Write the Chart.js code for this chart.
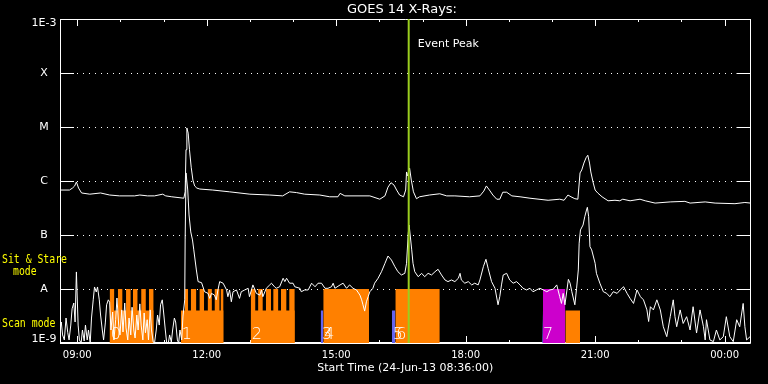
<!DOCTYPE html>
<html>
<head>
<meta charset="utf-8">
<script src="https://cdn.jsdelivr.net/npm/chart.js@4/dist/chart.umd.min.js"></script>
<style>
  html, body { margin: 0; padding: 0; background: #000; }
  canvas { display: block; background: #000; }
</style>
</head>
<body>
<canvas id="goes" width="768" height="384"></canvas>
<script>
// axis ticks
var xTickVals = [9, 12, 15, 18, 21, 24];
var xTickLabels = ['09:00', '12:00', '15:00', '18:00', '21:00', '00:00'];
var yTickVals = [1e-9, 1e-8, 1e-7, 1e-6, 1e-5, 1e-4, 1e-3];
var yTickLabels = ['1E-9', 'A', 'B', 'C', 'M', 'X', '1E-3'];

// 1-8 A channel (hours since 24-Jun 00:00, W/m2)
var longTime = [8.60, 8.82, 8.89, 8.94, 8.98, 9.03, 9.10, 9.29, 9.54, 9.75, 9.98, 10.33, 10.45, 10.63, 10.79, 10.98, 11.05, 11.19, 11.47,
  11.50, 11.52, 11.54, 11.57, 11.60, 11.64, 11.68, 11.72, 11.77, 11.84, 12.14, 12.53, 13.00, 13.46, 13.76, 13.92, 14.08, 14.27, 14.62,
  14.85, 15.04, 15.09, 15.20, 15.78, 16.01, 16.13, 16.20, 16.27, 16.34, 16.40, 16.47, 16.56, 16.61, 16.63, 16.65, 16.70, 16.74, 16.79,
  16.86, 16.93, 17.16, 17.40, 17.56, 17.75, 18.09, 18.33, 18.42, 18.48, 18.55, 18.63, 18.72, 18.79, 18.86, 18.95, 19.07, 19.26, 19.49,
  19.91, 20.18, 20.28, 20.37, 20.44, 20.53, 20.60, 20.65, 20.69, 20.74, 20.79, 20.83, 20.87, 20.90, 20.95, 21.00, 21.06, 21.16, 21.30,
  21.46, 21.57, 21.64, 21.81, 22.04, 22.16, 22.39, 22.74, 23.08, 23.20, 23.55, 23.78, 24.24, 24.47, 24.60];
var longFlux = [6.8e-7, 6.8e-7, 7.4e-7, 8.1e-7, 9.6e-7, 7.4e-7, 6.0e-7, 5.7e-7, 6.0e-7, 5.5e-7, 5.3e-7, 5.3e-7, 5.5e-7, 5.3e-7, 5.3e-7, 5.7e-7, 5.3e-7, 5.1e-7, 4.8e-7,
  6.3e-7, 3.8e-6, 9.6e-6, 7.7e-6, 3.8e-6, 1.8e-6, 1.04e-6, 8.1e-7, 7.4e-7, 7.1e-7, 6.8e-7, 6.3e-7, 5.7e-7, 5.5e-7, 5.3e-7, 6.3e-7, 6.1e-7, 5.7e-7, 5.5e-7,
  5.1e-7, 5.1e-7, 5.9e-7, 5.3e-7, 5.3e-7, 4.6e-7, 5.3e-7, 7.7e-7, 9.3e-7, 8.4e-7, 6.8e-7, 5.5e-7, 5.1e-7, 6.8e-7, 1.47e-6, 1.24e-6, 1.74e-6, 1.04e-6, 6.3e-7,
  4.7e-7, 5.1e-7, 5.5e-7, 5.8e-7, 5.3e-7, 5.3e-7, 5.1e-7, 5.3e-7, 6.5e-7, 8.1e-7, 6.8e-7, 5.5e-7, 4.6e-7, 4.6e-7, 6.2e-7, 6.2e-7, 5.3e-7, 5.1e-7, 4.8e-7,
  4.4e-7, 4.6e-7, 4.4e-7, 5.5e-7, 5.1e-7, 4.7e-7, 4.6e-7, 1.41e-6, 1.6e-6, 2.15e-6, 2.7e-6, 3.0e-6, 2.15e-6, 1.47e-6, 9.6e-7, 6.8e-7, 6.0e-7, 5.1e-7, 4.3e-7,
  4.4e-7, 4.3e-7, 4.6e-7, 4.3e-7, 4.6e-7, 4.3e-7, 3.9e-7, 4.1e-7, 4.2e-7, 3.9e-7, 4.1e-7, 3.9e-7, 3.8e-7, 4.0e-7, 3.9e-7];

// 0.5-4 A channel
var shortTime = [8.60, 8.63, 8.66, 8.70, 8.74, 8.78, 8.81, 8.85, 8.88, 8.92, 8.95, 8.98, 9.02, 9.05, 9.09, 9.12, 9.16, 9.19, 9.23, 9.26,
  9.30, 9.33, 9.37, 9.40, 9.44, 9.47, 9.51, 9.54, 9.58, 9.61, 9.65, 9.68, 9.72, 9.75, 9.78, 9.82, 9.85, 9.89, 9.92, 9.96, 9.99, 10.03,
  10.06, 10.10, 10.13, 10.17, 10.20, 10.24, 10.27, 10.31, 10.34, 10.38, 10.41, 10.45, 10.48, 10.52, 10.55, 10.58, 10.62, 10.65, 10.69,
  10.72, 10.76, 10.79, 10.83, 10.86, 10.90, 10.93, 10.97, 11.00, 11.04, 11.07, 11.11, 11.14, 11.18, 11.21, 11.25, 11.28, 11.32, 11.35,
  11.38, 11.42, 11.45, 11.49, 11.50, 11.52, 11.56, 11.59, 11.63, 11.67, 11.70, 11.76, 11.80, 11.88, 11.95, 12.03, 12.07, 12.11, 12.18,
  12.22, 12.26, 12.30, 12.38, 12.46, 12.49, 12.53, 12.57, 12.61, 12.69, 12.76, 12.80, 12.88, 12.96, 12.99, 13.07, 13.15, 13.23, 13.27,
  13.30, 13.38, 13.46, 13.50, 13.57, 13.61, 13.69, 13.77, 13.81, 13.85, 13.92, 14.00, 14.04, 14.16, 14.19, 14.27, 14.35, 14.43, 14.51,
  14.58, 14.66, 14.74, 14.81, 14.89, 14.93, 14.97, 15.09, 15.16, 15.24, 15.31, 15.39, 15.47, 15.55, 15.59, 15.62, 15.66, 15.70, 15.74,
  15.78, 15.85, 15.89, 15.97, 16.05, 16.13, 16.20, 16.28, 16.36, 16.43, 16.51, 16.59, 16.63, 16.67, 16.69, 16.75, 16.78, 16.82, 16.90,
  16.98, 17.05, 17.13, 17.21, 17.29, 17.36, 17.44, 17.52, 17.59, 17.67, 17.75, 17.83, 17.87, 17.90, 17.98, 18.06, 18.14, 18.21, 18.29,
  18.33, 18.41, 18.47, 18.52, 18.60, 18.68, 18.75, 18.79, 18.83, 18.87, 18.95, 19.02, 19.10, 19.18, 19.26, 19.33, 19.41, 19.49, 19.56,
  19.64, 19.72, 19.80, 19.88, 19.95, 20.03, 20.11, 20.18, 20.22, 20.26, 20.30, 20.38, 20.42, 20.46, 20.53, 20.57, 20.61, 20.63, 20.66,
  20.72, 20.76, 20.80, 20.82, 20.85, 20.88, 20.92, 21.00, 21.03, 21.11, 21.19, 21.27, 21.34, 21.42, 21.51, 21.58, 21.66, 21.74, 21.81,
  21.89, 21.97, 22.05, 22.12, 22.20, 22.24, 22.28, 22.35, 22.43, 22.51, 22.58, 22.66, 22.74, 22.81, 22.85, 22.89, 22.97, 23.04, 23.12,
  23.20, 23.27, 23.35, 23.43, 23.51, 23.55, 23.58, 23.66, 23.74, 23.81, 23.89, 23.97, 24.04, 24.12, 24.20, 24.28, 24.35, 24.39, 24.43,
  24.47, 24.51, 24.59];
var shortFlux = [1.74e-9, 2.45e-9, 1.41e-9, 1.14e-9, 2.9e-9, 1.55e-9, 1.14e-9, 2.15e-9, 4.3e-9, 5.5e-9, 2.45e-9, 2.07e-8, 2.15e-9, 1.14e-9, 1.0e-9, 1.74e-9, 1.09e-9, 2.15e-9, 1.14e-9, 1.74e-9,
  1.0e-9, 2.9e-9, 6.3e-9, 1.09e-8, 8.8e-9, 1.09e-8, 6.3e-9, 3.3e-9, 1.74e-9, 1.14e-9, 2.35e-9, 5.1e-9, 6.3e-9, 5.7e-9, 1.74e-9, 3.75e-9, 1.14e-9, 2.7e-9, 6.8e-9, 2.15e-9, 1.41e-9, 4.1e-9,
  1.6e-9, 5.5e-9, 1.9e-9, 1.14e-9, 2.9e-9, 1.41e-9, 4.6e-9, 1.74e-9, 1.24e-9, 3.3e-9, 1.74e-9, 5.3e-9, 2.15e-9, 1.14e-9, 3.6e-9, 1.55e-9, 2.7e-9, 1.14e-9, 4.1e-9,
  1.74e-9, 1.04e-9, 1.0e-9, 1.74e-9, 3.3e-9, 2.15e-9, 5.1e-9, 6.3e-9, 3.75e-9, 1.74e-9, 1.04e-9, 1.0e-9, 1.41e-9, 1.04e-9, 1.74e-9, 2.9e-9, 2.45e-9, 1.14e-9, 1.0e-9,
  1.74e-9, 1.14e-9, 3.16e-9, 6.3e-9, 8.1e-8, 1.41e-6, 6.8e-7, 2.35e-7, 1.14e-7, 8.1e-8, 5.3e-8, 2.25e-8, 1.37e-8, 1.31e-8, 8.9e-9, 8.3e-9, 6.7e-9, 8.3e-9, 7.7e-9,
  6.3e-9, 9.6e-9, 1.37e-8, 1.28e-8, 9.6e-9, 7.2e-9, 9.6e-9, 5.8e-9, 8.9e-9, 9.6e-9, 6.7e-9, 8.9e-9, 9.6e-9, 1.03e-8, 7.2e-9, 1.19e-8, 8.3e-9, 7.7e-9, 9.6e-9,
  7.2e-9, 1.03e-8, 1.19e-8, 1.28e-8, 1.10e-8, 1.03e-8, 1.10e-8, 1.58e-8, 1.37e-8, 1.58e-8, 1.28e-8, 1.28e-8, 1.10e-8, 1.03e-8, 8.9e-9, 9.6e-9, 9.6e-9, 1.28e-8, 1.10e-8,
  1.28e-8, 1.28e-8, 1.03e-8, 1.03e-8, 1.10e-8, 1.28e-8, 1.03e-8, 1.19e-8, 1.28e-8, 1.03e-8, 1.19e-8, 1.03e-8, 9.6e-9, 7.7e-9, 6.3e-9, 5.1e-9, 3.9e-9, 5.8e-9, 7.2e-9,
  8.9e-9, 1.03e-8, 1.28e-8, 1.58e-8, 2.09e-8, 2.99e-8, 4.08e-8, 3.44e-8, 2.59e-8, 2.09e-8, 1.82e-8, 1.95e-8, 2.99e-8, 1.08e-7, 1.53e-7, 5.3e-8, 2.99e-8, 2.09e-8, 1.69e-8,
  1.95e-8, 1.69e-8, 1.95e-8, 1.82e-8, 2.09e-8, 2.32e-8, 1.82e-8, 1.47e-8, 1.37e-8, 1.47e-8, 1.37e-8, 1.58e-8, 1.95e-8, 1.47e-8, 1.28e-8, 1.37e-8, 1.19e-8, 1.28e-8, 1.19e-8,
  1.47e-8, 2.59e-8, 3.55e-8, 2.42e-8, 1.37e-8, 1.03e-8, 5.1e-9, 7.2e-9, 1.19e-8, 1.82e-8, 1.95e-8, 1.47e-8, 1.28e-8, 1.37e-8, 1.19e-8, 1.03e-8, 9.6e-9, 1.03e-8, 8.9e-9,
  9.6e-9, 1.03e-8, 9.6e-9, 8.9e-9, 9.6e-9, 9.9e-9, 1.19e-8, 7.2e-9, 5.4e-9, 8.3e-9, 5.1e-9, 1.51e-8, 1.28e-8, 8.9e-9, 5.1e-9, 1.03e-8, 2.25e-8, 7.05e-8, 1.24e-7,
  1.53e-7, 2.18e-7, 2.9e-7, 3.26e-7, 2.18e-7, 6.07e-8, 5.3e-8, 2.99e-8, 1.95e-8, 1.28e-8, 8.9e-9, 8.3e-9, 7.2e-9, 8.9e-9, 8.3e-9, 9.6e-9, 1.10e-8, 8.3e-9, 6.7e-9,
  5.4e-9, 9.6e-9, 7.2e-9, 6.3e-9, 4.1e-9, 2.5e-9, 4.7e-9, 4.1e-9, 6.3e-9, 4.1e-9, 2.0e-9, 1.31e-9, 3.07e-9, 6.3e-9, 3.07e-9, 2.0e-9, 4.1e-9, 2.3e-9, 3.07e-9,
  1.74e-9, 4.7e-9, 1.53e-9, 4.1e-9, 2.0e-9, 1.14e-9, 2.7e-9, 1.14e-9, 1.06e-9, 1.74e-9, 1.14e-9, 1.31e-9, 3.07e-9, 1.31e-9, 1.06e-9, 2.7e-9, 2.0e-9, 3.3e-9, 5.4e-9,
  2.0e-9, 1.14e-9, 1.31e-9];

// observation blocks (hours): scan mode and sit & stare mode
var scanStart = [9.75, 11.40, 13.02, 14.64, 16.29, 19.77, 20.31];
var scanEnd   = [10.77, 12.39, 14.04, 14.70, 16.37, 19.79, 20.65];
var scanProg  = ['p1', 'p1', 'p1', 'p2', 'p2', 'p2', 'p1'];
var stareStart = [9.75, 9.94, 10.13, 10.29, 10.48, 10.66, 11.49, 11.63, 11.83, 12.02, 12.18, 12.32,
  13.02, 13.19, 13.37, 13.54, 13.72, 13.91, 14.70, 16.37, 19.79];
var stareEnd   = [9.86, 10.05, 10.24, 10.40, 10.59, 10.77, 11.57, 11.76, 11.94, 12.12, 12.30, 12.39,
  13.13, 13.30, 13.49, 13.66, 13.85, 14.04, 15.76, 17.40, 20.31];
var stareProg  = ['p1', 'p1', 'p1', 'p1', 'p1', 'p1', 'p1', 'p1', 'p1', 'p1', 'p1', 'p1',
  'p1', 'p1', 'p1', 'p1', 'p1', 'p1', 'p1', 'p1', 'p3'];
var scanLevel = 4e-9;
var stareLevel = 1e-8;
var obsNames = ['0', '1', '2', '3', '4', '5', '6', '7'];
var obsTime  = [9.75, 11.40, 13.02, 14.64, 14.70, 16.29, 16.37, 19.77];
var eventPeak = 16.68;

var progColor = { p1: '#ff8000', p2: '#6464f0', p3: '#cc00cc' };

function rect(s, e, top, color) {
  return {
    data: [{x: s, y: top}, {x: e, y: top}],
    borderWidth: 0,
    borderColor: 'rgba(0,0,0,0)',
    backgroundColor: color,
    fill: 'start',
    pointRadius: 0,
    order: 3
  };
}

function series(t, v) {
  return t.map(function(h, i) { return {x: h, y: v[i]}; });
}

var datasets = [];
datasets.push({
  data: [{x: eventPeak, y: 1e-3}, {x: eventPeak, y: 1e-9}],
  borderColor: '#9acd1e', borderWidth: 2, pointRadius: 0, order: 0
});
datasets.push({
  data: series(longTime, longFlux),
  borderColor: '#fff', borderWidth: 1, pointRadius: 0, tension: 0, order: 1
});
datasets.push({
  data: series(shortTime, shortFlux),
  borderColor: '#fff', borderWidth: 1, pointRadius: 0, tension: 0, order: 1
});
scanStart.forEach(function(s, i) {
  datasets.push(rect(s, scanEnd[i], scanLevel, progColor[scanProg[i]]));
});
stareStart.forEach(function(s, i) {
  datasets.push(rect(s, stareEnd[i], stareLevel, progColor[stareProg[i]]));
});

function seg(ctx, x1, y1, x2, y2) {
  ctx.beginPath(); ctx.moveTo(x1, y1); ctx.lineTo(x2, y2); ctx.stroke();
}

var decor = {
  id: 'decor',
  beforeDatasetsDraw: function(chart) {
    var ctx = chart.ctx, a = chart.chartArea, x = chart.scales.x, y = chart.scales.y;
    ctx.save();
    ctx.strokeStyle = '#fff';
    ctx.lineWidth = 1;
    // dotted grid
    ctx.setLineDash([1, 5]);
    yTickVals.slice(1, -1).forEach(function(v) {
      var py = Math.round(y.getPixelForValue(v)) + 0.5;
      seg(ctx, a.left + 17, py, a.right - 16, py);
    });
    ctx.setLineDash([]);
    // decade ticks both sides
    yTickVals.forEach(function(v) {
      var py = Math.round(y.getPixelForValue(v)) + 0.5;
      seg(ctx, a.left, py, a.left + 14, py);
      seg(ctx, a.right - 14, py, a.right, py);
    });
    // hour ticks top and bottom
    for (var h = 9; h <= 24; h++) {
      var px = Math.round(x.getPixelForValue(h)) + 0.5;
      var len = h % 3 === 0 ? 7 : 3;
      seg(ctx, px, a.bottom, px, a.bottom - len);
      seg(ctx, px, a.top, px, a.top + len);
    }
    // frame
    seg(ctx, Math.round(a.left) + 0.5, a.top, Math.round(a.left) + 0.5, a.bottom);
    seg(ctx, Math.round(a.right) - 0.5, a.top, Math.round(a.right) - 0.5, a.bottom);
    seg(ctx, a.left, Math.round(a.top) + 0.5, a.right, Math.round(a.top) + 0.5);
    ctx.lineWidth = 2;
    seg(ctx, a.left, Math.round(a.bottom), a.right, Math.round(a.bottom));

    // y labels, end labels kept inside the frame
    ctx.fillStyle = '#fff';
    ctx.font = '11px "DejaVu Sans"';
    ctx.textAlign = 'center';
    ctx.textBaseline = 'middle';
    yTickVals.forEach(function(v, i) {
      var py = y.getPixelForValue(v);
      py = Math.min(Math.max(py, a.top + 4), a.bottom - 3.5);
      ctx.fillText(yTickLabels[i], 44, py);
    });
    ctx.restore();
  },
  afterDatasetsDraw: function(chart) {
    var ctx = chart.ctx, x = chart.scales.x;
    ctx.save();
    ctx.fillStyle = '#fff';
    ctx.textBaseline = 'alphabetic';
    ctx.font = '13px "DejaVu Sans"';
    ctx.textAlign = 'right';
    ctx.fillText('GOES 14 X-Rays:', 457, 13);
    ctx.textAlign = 'left';
    ctx.font = '11px "DejaVu Sans"';
    ctx.fillText('Event Peak', x.getPixelForValue(eventPeak) + 9, 47);
    ctx.font = '200 16px "DejaVu Sans"';
    obsNames.forEach(function(n, i) {
      ctx.fillText(n, x.getPixelForValue(obsTime[i]) + 1, 339);
    });
    ctx.fillStyle = '#ffff00';
    ctx.font = '12px "DejaVu Sans Mono"';
    ctx.fillText('Sit & Stare', 2, 262.5, 65);
    ctx.fillText('mode', 13, 275, 23.5);
    ctx.fillText('Scan mode', 2, 327, 53.5);
    ctx.restore();
  }
};

var chart = new Chart(document.getElementById('goes'), {
  type: 'line',
  data: { datasets: datasets },
  options: {
    responsive: false,
    animation: false,
    events: [],
    layout: { padding: { top: 19, right: 17.5, left: 0, bottom: 0 } },
    plugins: { legend: { display: false }, tooltip: { enabled: false }, title: { display: false } },
    scales: {
      x: {
        type: 'linear', min: 8.6, max: 24.6,
        grid: { display: false, drawTicks: false },
        border: { display: false },
        afterFit: function(s) { s.height = 41; },
        afterBuildTicks: function(s) { s.ticks = xTickVals.map(function(v) { return {value: v}; }); },
        ticks: {
          color: '#fff', padding: 6, maxRotation: 0, autoSkip: false,
          font: { family: 'DejaVu Sans', size: 10 },
          callback: function(v) { return xTickLabels[xTickVals.indexOf(v)]; }
        },
        title: {
          display: true, text: 'Start Time (24-Jun-13 08:36:00)', color: '#fff',
          font: { family: 'DejaVu Sans', size: 11 }, padding: { top: 0, bottom: 9 }
        }
      },
      y: {
        type: 'logarithmic', min: 1e-9, max: 1e-3,
        grid: { display: false, drawTicks: false },
        border: { display: false },
        afterFit: function(s) { s.width = 60; },
        afterBuildTicks: function(s) { s.ticks = yTickVals.map(function(v) { return {value: v}; }); },
        ticks: { display: false }
      }
    }
  },
  plugins: [decor]
});
</script>
</body>
</html>
